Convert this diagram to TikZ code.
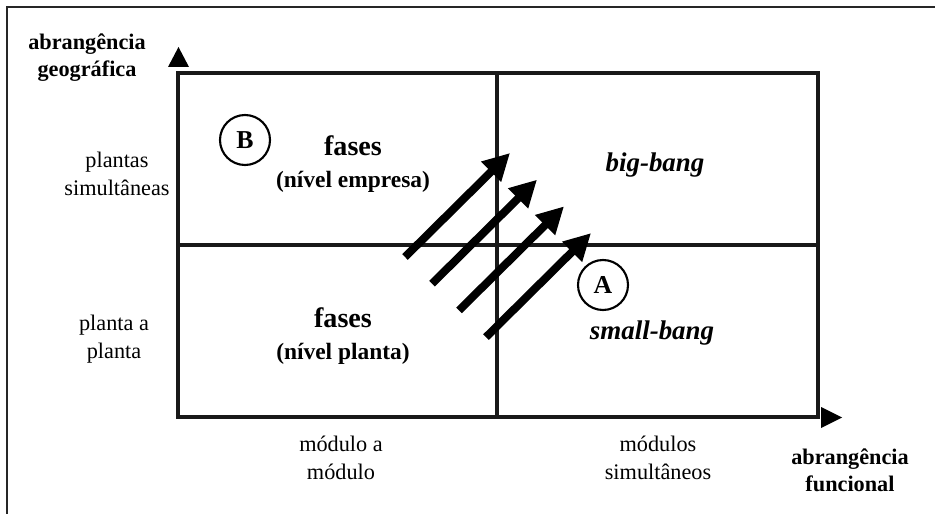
\documentclass[tikz,border=0pt]{standalone}
\usepackage{fontspec}
\setmainfont{Liberation Serif}
\usetikzlibrary{arrows.meta}

\tikzset{
    gridline/.style={line width=2.6pt, black!90},
    axislabel/.style={align=center, font=\fontsize{19}{23}\selectfont\bfseries},
    ticklabel/.style={align=center, font=\fontsize{19}{24}\selectfont},
    celltext/.style={align=center, font=\fontsize{24}{27}\selectfont\bfseries},
    bangtext/.style={font=\fontsize{23}{27}\selectfont\bfseries\itshape},
    phase/.style={circle, draw, line width=1.8pt, minimum size=1.5cm, inner sep=0pt,
        font=\fontsize{22}{26}\selectfont\bfseries},
    shiftarrow/.style={line width=6.8pt, -{Triangle[length=0.8cm,width=0.8cm]}}
}

\begin{document}
\begin{tikzpicture}[x=0.03cm, y=-0.03cm]
    \useasboundingbox (0,0) rectangle (935,514);

    % --- FRAME ---
    \draw[line width=1.6pt, black!85] (7,514) -- (7,7) -- (935,7);

    % --- MATRIX ---
    \coordinate (sw) at (178,417);
    \coordinate (ne) at (818,73);
    \draw[gridline] (sw) rectangle (ne);
    \draw[gridline] (497,73) -- (497,417);
    \draw[gridline] (178,245) -- (818,245);

    % Axis heads
    \fill (168,67) -- (189,67) -- (178.5,47) -- cycle;
    \fill (821,407) -- (821,428) -- (842,417.5) -- cycle;

    % --- AXIS LABELS ---
    \node[axislabel] (ylabel) at (87,58) {abrangência\\geográfica};
    \node[axislabel] (xlabel) at (850,470) {abrangência\\funcional};

    \node[ticklabel] (ytop) at (117,174) {plantas\\simultâneas};
    \node[ticklabel] (ybot) at (114,339) {planta a\\planta};
    \node[ticklabel] (xleft) at (341,458) {módulo a\\módulo};
    \node[ticklabel] (xright) at (658,458) {módulos\\simultâneos};

    % --- CELLS ---
    \node[celltext] (empresa) at (353,164)
        {fases\\{\fontsize{20}{24}\selectfont(nível empresa)}};
    \node[celltext] (planta) at (343,336)
        {fases\\{\fontsize{20}{24}\selectfont(nível planta)}};
    \node[bangtext] (big) at (655,165) {big-bang};
    \node[bangtext] (small) at (652,333) {small-bang};

    \node[phase] (B) at (245,140) {B};
    \node[phase] (A) at (603,285) {A};

    % --- SHIFT ARROWS ---
    \foreach \i in {0,...,3} {
        \coordinate (from\i) at ({405+27*\i},{257+26.7*\i});
        \coordinate (to\i) at ({510+27*\i},{153+26.7*\i});
        \draw[shiftarrow] (from\i) -- (to\i);
    }
\end{tikzpicture}
\end{document}
